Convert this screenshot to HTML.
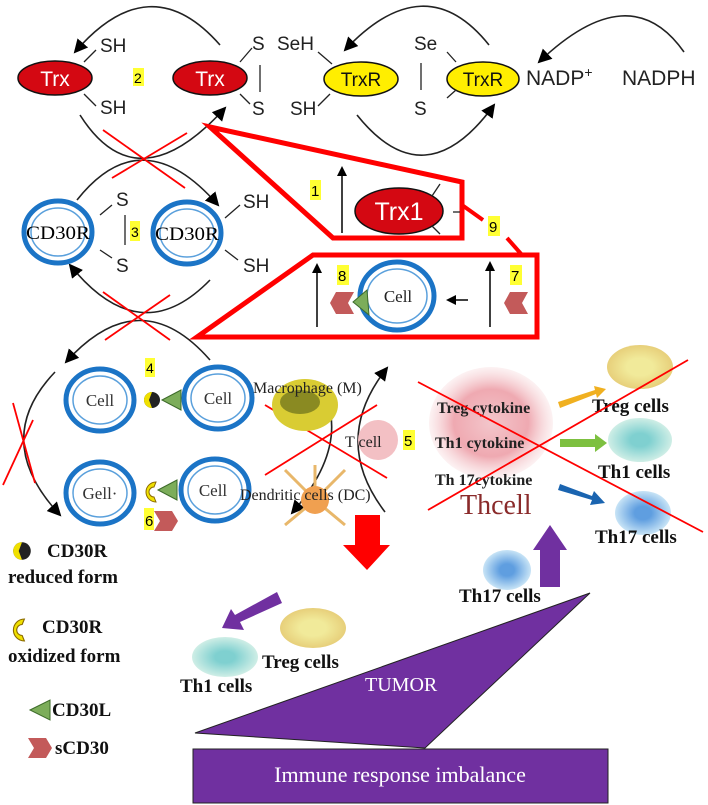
<!DOCTYPE html>
<html><head><meta charset="utf-8"><style>
html,body{margin:0;padding:0;background:#fff}
svg{display:block}
.s{font-family:"Liberation Sans",sans-serif}
.r{font-family:"Liberation Serif",serif}
</style></head><body>
<svg width="708" height="805" viewBox="0 0 708 805" xmlns="http://www.w3.org/2000/svg">
<defs>
<marker id="a" markerWidth="10" markerHeight="10" refX="8" refY="5" orient="auto" markerUnits="userSpaceOnUse"><path d="M0,0 L10,5 L0,10 z" fill="#000"/></marker>
<marker id="a2" markerWidth="14" markerHeight="14" refX="12" refY="7" orient="auto" markerUnits="userSpaceOnUse"><path d="M0,0 L14,7 L0,14 z" fill="#000"/></marker>
<radialGradient id="pink"><stop offset="0" stop-color="#f3c6cb"/><stop offset="0.6" stop-color="#efa9b1"/><stop offset="1" stop-color="#f6d3d6" stop-opacity="0.3"/></radialGradient>
<radialGradient id="yel"><stop offset="0.4" stop-color="#f1ea9a"/><stop offset="1" stop-color="#e7cf7a"/></radialGradient>
<radialGradient id="teal"><stop offset="0.3" stop-color="#7fd0d0"/><stop offset="1" stop-color="#cfeee6"/></radialGradient>
<radialGradient id="blu"><stop offset="0.3" stop-color="#5f9ee0"/><stop offset="1" stop-color="#c8e4f6"/></radialGradient>
<g id="cell"><ellipse rx="34" ry="31" fill="#fff" stroke="#1b74c6" stroke-width="5"/><ellipse rx="27" ry="24" fill="none" stroke="#5aa0dc" stroke-width="1.5"/></g>
<g id="chev"><path d="M-4,-11 L14,-11 L8,0 L14,11 L-4,11 L-10,0 z" fill="#c35a5a"/></g>
<g id="chevR"><path d="M-14,-10 L4,-10 L10,0 L4,10 L-14,10 L-8,0 z" fill="#c35a5a"/></g>
<g id="ox"><path d="M4,-10 A10,10 0 0 0 4,10 L2,5 A5,5 0 0 1 2,-5 z" fill="#f0e000" stroke="#8a6a00" stroke-width="1"/></g>
<g id="red"><circle r="8" fill="#222"/><path d="M0,-8 A8,8 0 0 0 0,8 L-3,0 z" fill="#f0e000"/></g>
</defs>

<g fill="none" stroke="#222" stroke-width="1.6">
<path d="M220,45 Q150,-35 75,52" marker-end="url(#a2)"/>
<path d="M80,115 Q137,205 225,108" marker-end="url(#a2)"/>
<path d="M77,200 Q142,118 218,205" marker-end="url(#a2)"/>
<path d="M489,45 Q425,-35 345,50" marker-end="url(#a2)"/>
<path d="M357,115 Q425,200 494,105" marker-end="url(#a2)"/>
<path d="M684,52 Q630,-25 539,62" marker-end="url(#a2)"/>
<path d="M210,280 Q140,352 70,265" marker-end="url(#a2)"/>
<path d="M210,360 Q140,280 66,362" marker-end="url(#a2)"/>
<path d="M55,372 Q-10,440 60,515" marker-end="url(#a2)"/>
<path d="M318,382 Q355,440 292,513" marker-end="url(#a2)"/>
<path d="M385,512 Q330,440 387,368" marker-end="url(#a2)"/>
</g>

<ellipse cx="55" cy="78" rx="37" ry="17" fill="#d40812" stroke="#111" stroke-width="1.5"/>
<text x="55" y="86" class="s" font-size="21" fill="#fff" text-anchor="middle">Trx</text>
<ellipse cx="210" cy="78" rx="37" ry="17" fill="#d40812" stroke="#111" stroke-width="1.5"/>
<text x="210" y="86" class="s" font-size="21" fill="#fff" text-anchor="middle">Trx</text>
<ellipse cx="361" cy="79" rx="37" ry="17" fill="#ffee00" stroke="#111" stroke-width="1.5"/>
<text x="361" y="86" class="s" font-size="19" fill="#111" text-anchor="middle">TrxR</text>
<ellipse cx="483" cy="79" rx="36" ry="17" fill="#ffee00" stroke="#111" stroke-width="1.5"/>
<text x="483" y="86" class="s" font-size="19" fill="#111" text-anchor="middle">TrxR</text>
<g stroke="#222" stroke-width="1.3">
<line x1="84" y1="62" x2="96" y2="50"/><line x1="84" y1="94" x2="96" y2="106"/>
<line x1="240" y1="62" x2="252" y2="48"/><line x1="240" y1="94" x2="250" y2="104"/>
<line x1="260" y1="65" x2="260" y2="92"/>
<line x1="318" y1="52" x2="332" y2="64"/><line x1="318" y1="106" x2="330" y2="94"/>
<line x1="421" y1="63" x2="421" y2="90"/>
<line x1="447" y1="52" x2="456" y2="62"/><line x1="447" y1="98" x2="456" y2="90"/>
</g>
<g class="s" font-size="19" fill="#222">
<text x="100" y="52">SH</text><text x="100" y="114">SH</text>
<text x="252" y="50">S</text><text x="252" y="115">S</text>
<text x="277" y="50">SeH</text><text x="290" y="115">SH</text>
<text x="414" y="50">Se</text><text x="414" y="115">S</text>
<text x="526" y="85" font-size="21">NADP<tspan font-size="14" dy="-8">+</tspan></text>
<text x="622" y="85" font-size="21">NADPH</text>
</g>
<rect x="133" y="68" width="11" height="18" fill="#ffff33"/>
<text x="134" y="83" class="s" font-size="14">2</text>

<g stroke="#f00" stroke-width="1.8">
<line x1="103" y1="130" x2="185" y2="188"/><line x1="112" y1="178" x2="187" y2="133"/>
<line x1="103" y1="292" x2="170" y2="340"/><line x1="105" y1="340" x2="170" y2="295"/>
<line x1="13" y1="403" x2="35" y2="483"/><line x1="33" y1="420" x2="3" y2="485"/>
<line x1="265" y1="405" x2="387" y2="478"/><line x1="265" y1="475" x2="377" y2="405"/>
</g>

<use href="#cell" x="58" y="232"/>
<use href="#cell" x="187" y="233"/>
<text x="58" y="239" class="r" font-size="19" text-anchor="middle" textLength="64" lengthAdjust="spacingAndGlyphs">CD30R</text>
<text x="187" y="240" class="r" font-size="19" text-anchor="middle" textLength="64" lengthAdjust="spacingAndGlyphs">CD30R</text>
<g stroke="#222" stroke-width="1.3">
<line x1="100" y1="215" x2="112" y2="205"/><line x1="100" y1="250" x2="112" y2="258"/>
<line x1="125" y1="215" x2="125" y2="245"/>
<line x1="225" y1="218" x2="240" y2="205"/><line x1="225" y1="250" x2="238" y2="260"/>
</g>
<g class="s" font-size="19" fill="#222">
<text x="116" y="206">S</text><text x="116" y="272">S</text>
<text x="243" y="208">SH</text><text x="243" y="272">SH</text>
</g>
<rect x="130" y="221" width="10" height="20" fill="#ffff33"/>
<text x="131" y="237" class="s" font-size="14">3</text>

<polygon points="210,127 462,182 462,238 333,238" fill="none" stroke="#f00" stroke-width="5"/>
<polygon points="313,255 537,255 537,337 197,337" fill="none" stroke="#f00" stroke-width="5"/>
<line x1="462" y1="205" x2="483" y2="220" stroke="#f00" stroke-width="4"/>
<line x1="507" y1="238" x2="522" y2="255" stroke="#f00" stroke-width="4"/>
<rect x="488" y="216" width="12" height="20" fill="#ffff33"/>
<text x="489" y="232" class="s" font-size="15">9</text>

<line x1="342" y1="233" x2="342" y2="168" stroke="#000" stroke-width="1.5" marker-end="url(#a)"/>
<rect x="310" y="180" width="11" height="20" fill="#ffff33"/>
<text x="311" y="196" class="s" font-size="15">1</text>
<ellipse cx="399" cy="211" rx="44" ry="23" fill="#d40812" stroke="#111" stroke-width="1.5"/>
<text x="399" y="220" class="s" font-size="25" fill="#fff" text-anchor="middle">Trx1</text>
<g stroke="#222" stroke-width="1.3"><line x1="432" y1="196" x2="440" y2="184"/><line x1="432" y1="226" x2="440" y2="234"/><line x1="453" y1="212" x2="460" y2="212"/></g>

<line x1="317" y1="327" x2="317" y2="265" stroke="#000" stroke-width="1.5" marker-end="url(#a)"/>
<line x1="490" y1="327" x2="490" y2="263" stroke="#000" stroke-width="1.5" marker-end="url(#a)"/>
<rect x="337" y="265" width="12" height="20" fill="#ffff33"/>
<text x="338" y="281" class="s" font-size="15">8</text>
<rect x="510" y="265" width="12" height="20" fill="#ffff33"/>
<text x="511" y="281" class="s" font-size="15">7</text>
<use href="#chev" x="340" y="303"/>
<use href="#chev" x="514" y="303"/>
<ellipse cx="397" cy="296" rx="37" ry="34" fill="#fff" stroke="#1b74c6" stroke-width="5"/>
<ellipse cx="397" cy="296" rx="30" ry="27" fill="none" stroke="#5aa0dc" stroke-width="1.5"/>
<polygon points="353,302 367,290 369,315" fill="#7cad5a" stroke="#3d6b2a"/>
<text x="398" y="302" class="r" font-size="17" text-anchor="middle" fill="#222">Cell</text>
<line x1="468" y1="300" x2="448" y2="300" stroke="#000" stroke-width="1.5" marker-end="url(#a)"/>

<use href="#cell" x="100" y="400"/><use href="#cell" x="218" y="398"/>
<use href="#cell" x="100" y="493"/><use href="#cell" x="215" y="490"/>
<g class="r" font-size="17" fill="#333" text-anchor="middle">
<text x="100" y="406">Cell</text><text x="218" y="404">Cell</text>
<text x="100" y="499">Gell·</text><text x="213" y="496">Cell</text>
</g>
<rect x="145" y="358" width="10" height="19" fill="#ffff33"/>
<text x="146" y="373" class="s" font-size="14">4</text>
<use href="#red" x="152" y="400"/>
<polygon points="162,400 181,390 181,410" fill="#7cad5a" stroke="#3d6b2a"/>
<use href="#ox" x="152" y="492"/>
<polygon points="158,490 177,480 177,500" fill="#7cad5a" stroke="#3d6b2a"/>
<rect x="144" y="508" width="10" height="22" fill="#ffff33"/>
<text x="145" y="526" class="s" font-size="15">6</text>
<use href="#chevR" x="168" y="521"/>

<ellipse cx="305" cy="405" rx="33" ry="26" fill="#d9cc33"/>
<ellipse cx="300" cy="402" rx="20" ry="12" fill="#8a8a22"/>
<g stroke="#e8b76a" stroke-width="3"><line x1="315" y1="500" x2="285" y2="470"/><line x1="315" y1="500" x2="345" y2="470"/><line x1="315" y1="500" x2="285" y2="525"/><line x1="315" y1="500" x2="345" y2="525"/><line x1="315" y1="500" x2="315" y2="465"/></g>
<circle cx="315" cy="500" r="14" fill="#f0a050"/>
<circle cx="378" cy="440" r="20" fill="#f3c0c4"/>
<text x="253" y="393" class="r" font-size="16" fill="#222">Macrophage (M)</text>
<text x="345" y="447" class="r" font-size="16" fill="#222">T cell</text>
<rect x="403" y="430" width="12" height="20" fill="#ffff33"/>
<text x="404" y="446" class="s" font-size="15">5</text>
<text x="240" y="500" class="r" font-size="16" fill="#222">Dendritic cells (DC)</text>
<polygon points="355,515 380,515 380,545 390,545 367,570 343,545 355,545" fill="#f00"/>

<ellipse cx="491" cy="423" rx="62" ry="56" fill="url(#pink)"/>
<g class="r" font-size="16" font-weight="bold" fill="#222">
<text x="437" y="413">Treg cytokine</text>
<text x="435" y="448">Th1  cytokine</text>
<text x="435" y="485">Th 17cytokine</text>
</g>
<text x="460" y="514" class="r" font-size="28" fill="#8a2a2a">Thcell</text>
<polygon points="558,402 595,390 594,386 606,389 597,398 596,394 560,408" fill="#f0b020"/>
<polygon points="560,439 595,439 595,434 607,443 595,452 595,447 560,447" fill="#7dc040"/>
<polygon points="560,484 592,496 594,491 605,503 590,505 592,500 558,490" fill="#1a64b0"/>
<ellipse cx="640" cy="367" rx="33" ry="22" fill="url(#yel)"/>
<ellipse cx="640" cy="440" rx="32" ry="22" fill="url(#teal)"/>
<ellipse cx="643" cy="513" rx="28" ry="22" fill="url(#blu)"/>
<g class="r" font-size="19" font-weight="bold" fill="#111">
<text x="592" y="412">Treg cells</text>
<text x="598" y="478">Th1 cells</text>
<text x="595" y="543">Th17 cells</text>
</g>
<g stroke="#f00" stroke-width="1.8"><line x1="418" y1="382" x2="703" y2="532"/><line x1="428" y1="510" x2="688" y2="360"/></g>

<ellipse cx="507" cy="570" rx="24" ry="20" fill="url(#blu)"/>
<polygon points="540,587 560,587 560,550 567,550 550,525 533,550 540,550" fill="#7030a0"/>
<text x="459" y="602" class="r" font-size="19" font-weight="bold" fill="#111">Th17 cells</text>
<polygon points="590,593 195,733 425,748" fill="#7030a0" stroke="#222" stroke-width="1"/>
<text x="365" y="691" class="r" font-size="20" fill="#fff">TUMOR</text>
<polygon points="277,592 282,603 240,622 244,630 222,628 231,609 235,615" fill="#7030a0"/>
<ellipse cx="313" cy="628" rx="33" ry="20" fill="url(#yel)"/>
<ellipse cx="225" cy="657" rx="33" ry="20" fill="url(#teal)"/>
<g class="r" font-size="19" font-weight="bold" fill="#111">
<text x="262" y="668">Treg cells</text>
<text x="180" y="692">Th1 cells</text>
</g>
<rect x="193" y="749" width="415" height="54" fill="#7030a0" stroke="#222" stroke-width="1"/>
<text x="400" y="782" class="r" font-size="22" fill="#fff" text-anchor="middle">Immune response imbalance</text>

<use href="#red" x="22" y="551" transform="translate(-2.2,-55.1) scale(1.1)"/>
<use href="#ox" x="20" y="630" transform="translate(-2,-63) scale(1.1)"/>
<polygon points="30,710 50,700 50,720" fill="#7cad5a" stroke="#3d6b2a"/>
<use href="#chevR" x="42" y="748"/>
<g class="r" font-size="19" font-weight="bold" fill="#111">
<text x="47" y="557">CD30R</text><text x="8" y="583">reduced form</text>
<text x="42" y="633">CD30R</text><text x="8" y="662">oxidized form</text>
<text x="52" y="716">CD30L</text><text x="55" y="754">sCD30</text>
</g>
</svg>
</body></html>
